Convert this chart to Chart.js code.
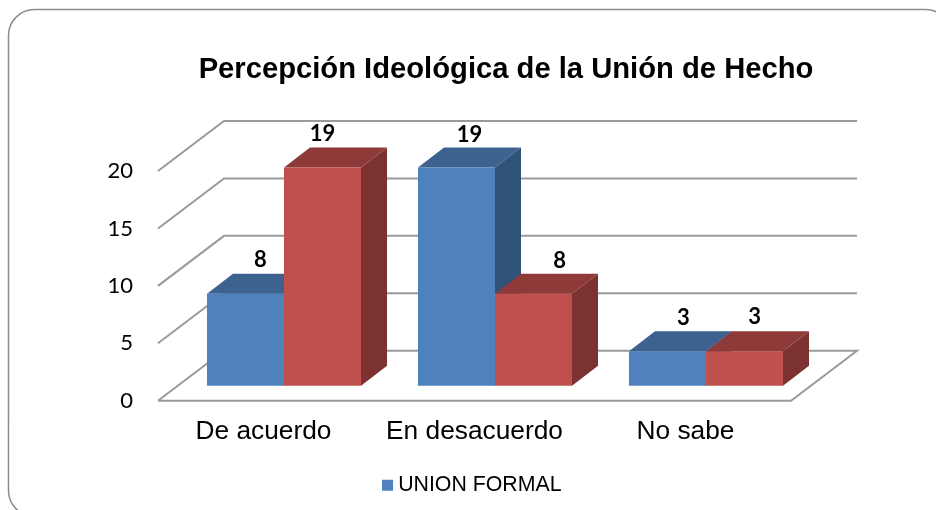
<!DOCTYPE html>
<html>
<head>
<meta charset="utf-8">
<style>html,body{margin:0;padding:0;background:#fff}#w{width:936px;height:510px}</style>
<script src="https://cdn.jsdelivr.net/npm/chart.js@4"></script>
</head>
<body>
<div id="w"><canvas id="c" width="936" height="510"></canvas></div>
<script>
const chartTitle = "Percepción Ideológica de la Unión de Hecho";
const categories = ["De acuerdo", "En desacuerdo", "No sabe"];
const unionFormal = [8, 19, 3];
const unionDeHecho = [19, 8, 3];
const yTicks = [0, 5, 10, 15, 20];
const seriesNames = ["UNION FORMAL", "UNION DE HECHO"];
const frontColors = ["#4F81BD", "#C0504D"];
const topColors = ["#3D6290", "#8E3A38"];
const sideColors = ["#315278", "#7C3230"];
const labelNudgeX = [[15, 13, 16], [0, 26, 10]];
const labelNudgeY = [[0, 1, 1], [0, 1, 0]];

const GRID = "#9a9a9a";
const WALL = {dx: 66, dy: -50};
const BAR_SHIFT = {dx: 20.5, dy: -15};
const BAR_DEPTH = {dx: 26, dy: -20};

function poly(ctx, pts, fill) {
  ctx.beginPath();
  pts.forEach((p, i) => i ? ctx.lineTo(p[0], p[1]) : ctx.moveTo(p[0], p[1]));
  ctx.closePath();
  ctx.fillStyle = fill;
  ctx.fill();
}

const scene3d = {
  id: "scene3d",
  afterLayout(chart) {
    const t = chart.titleBlock;
    t.left = 198; t.right = 814;
  },
  beforeDraw(chart) {
    const ctx = chart.ctx;
    ctx.save();
    ctx.strokeStyle = "#8c8c8c";
    ctx.lineWidth = 1.5;
    ctx.beginPath();
    ctx.roundRect(8.5, 9.5, 943, 507, 26);
    ctx.stroke();
    ctx.restore();
  },
  beforeDatasetsDraw(chart) {
    const ctx = chart.ctx, y = chart.scales.y, a = chart.chartArea;
    ctx.save();
    ctx.strokeStyle = GRID;
    ctx.lineWidth = 2;
    yTicks.forEach(v => {
      const py = y.getPixelForValue(v);
      ctx.beginPath();
      ctx.moveTo(a.left, py);
      ctx.lineTo(a.left + WALL.dx, py + WALL.dy);
      ctx.lineTo(a.right + WALL.dx, py + WALL.dy);
      if (v === 0) {
        ctx.lineTo(a.right, py);
        ctx.lineTo(a.left, py);
      }
      ctx.stroke();
    });
    ctx.restore();
    // side and top faces of every bar go under all the front faces
    ctx.save();
    ctx.translate(BAR_SHIFT.dx, BAR_SHIFT.dy);
    chart.data.datasets.forEach((ds, i) => {
      chart.getDatasetMeta(i).data.forEach(el => {
        const p = el.getProps(["x", "y", "base", "width"], true);
        const l = p.x - p.width / 2, r = p.x + p.width / 2;
        const dx = BAR_DEPTH.dx, dy = BAR_DEPTH.dy;
        poly(ctx, [[r, p.y], [r + dx, p.y + dy], [r + dx, p.base + dy], [r, p.base]], sideColors[i]);
        poly(ctx, [[l, p.y], [l + dx, p.y + dy], [r + dx, p.y + dy], [r, p.y]], topColors[i]);
      });
    });
    ctx.restore();
  },
  beforeDatasetDraw(chart) {
    chart.ctx.save();
    chart.ctx.translate(BAR_SHIFT.dx, BAR_SHIFT.dy);
  },
  afterDatasetDraw(chart) {
    chart.ctx.restore();
  },
  afterDatasetsDraw(chart) {
    const ctx = chart.ctx;
    ctx.save();
    ctx.font = "bold 22px Lato";
    ctx.fillStyle = "#000";
    ctx.textAlign = "center";
    ctx.textBaseline = "middle";
    chart.data.datasets.forEach((ds, i) => {
      chart.getDatasetMeta(i).data.forEach((el, j) => {
        const p = el.getProps(["x", "y"], true);
        ctx.fillText(String(ds.data[j]),
          p.x + BAR_SHIFT.dx + labelNudgeX[i][j],
          p.y + BAR_SHIFT.dy + BAR_DEPTH.dy - 14 + labelNudgeY[i][j]);
      });
    });
    ctx.restore();
  }
};

new Chart(document.getElementById("c"), {
  type: "bar",
  data: {
    labels: categories,
    datasets: [
      {label: seriesNames[0], data: unionFormal, backgroundColor: frontColors[0], clip: false},
      {label: seriesNames[1], data: unionDeHecho, backgroundColor: frontColors[1], clip: false}
    ]
  },
  options: {
    responsive: false,
    animation: false,
    layout: {padding: {left: 0, right: 145, top: 0, bottom: 4}},
    categoryPercentage: 0.73,
    barPercentage: 1,
    scales: {
      x: {
        grid: {display: false, drawTicks: false},
        border: {display: false},
        ticks: {color: "#000", font: {family: "Liberation Sans", size: 26.3}, padding: 15, maxRotation: 0},
        afterFit(s) { s.height = 64; }
      },
      y: {
        min: 0,
        max: 20,
        grid: {display: false, drawTicks: false},
        border: {display: false},
        ticks: {
          stepSize: 5,
          color: "#000",
          font: {family: "Lato", size: 22},
          padding: 25
        },
        afterFit(s) { s.width = 158; }
      }
    },
    plugins: {
      tooltip: {enabled: false},
      title: {
        display: true,
        text: chartTitle,
        color: "#000",
        font: {family: "Liberation Sans", size: 29.2, weight: "bold"},
        padding: {top: 52, bottom: 84}
      },
      legend: {
        display: true,
        position: "bottom",
        fullSize: false,
        labels: {
          filter: item => item.datasetIndex === 0,
          color: "#000",
          usePointStyle: true,
          pointStyle: "rect",
          boxWidth: 0.01,
          boxHeight: 11,
          font: {family: "Liberation Sans", size: 21.3},
          padding: 10
        }
      }
    }
  },
  plugins: [scene3d]
});
</script>
</body>
</html>
